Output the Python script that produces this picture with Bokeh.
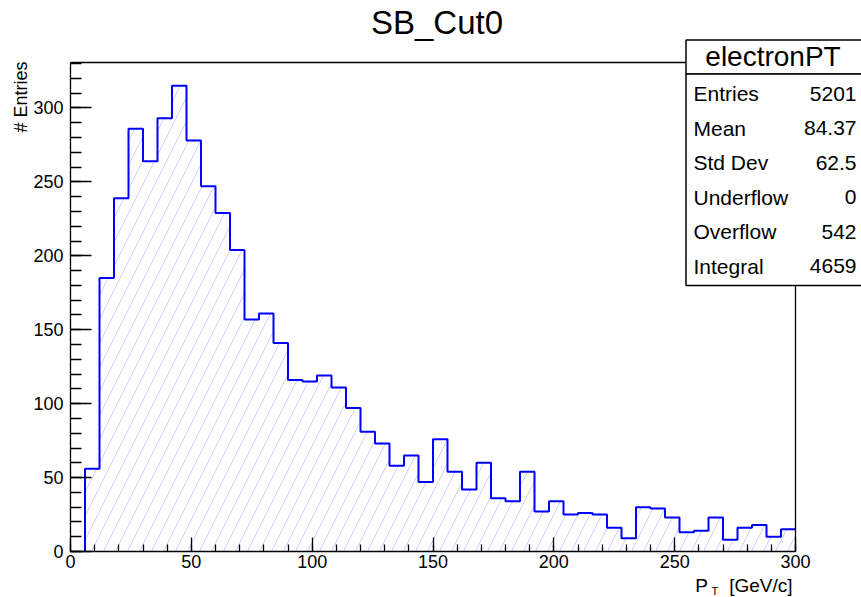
import math
import numpy as np
from bokeh.plotting import figure
from bokeh.models import Range1d, SingleIntervalTicker, Label, BoxAnnotation, ColumnDataSource
from bokeh.embed import file_html
from bokeh.resources import INLINE

# ---------------- data ----------------
title_text = "SB_Cut0"
hist_name = "electronPT"
x_min, x_max = 0, 300
n_bins = 50
counts = [0, 56, 185, 239, 286, 264, 293, 315, 278, 247,
          229, 204, 157, 161, 141, 116, 115, 119, 111, 97,
          81, 73, 58, 65, 47, 76, 54, 42, 60, 36,
          34, 54, 27, 34, 25, 26, 25, 16, 9, 30,
          29, 23, 13, 14, 23, 8, 16, 18, 10, 15]
stat_names = ["Entries", "Mean", "Std Dev", "Underflow", "Overflow", "Integral"]
stat_values = ["5201", "84.37", "62.5", "0", "542", "4659"]
x_label_main = "P"
x_label_sub = "T"
x_label_unit = "[GeV/c]"
y_label = "# Entries"

# ---------------- layout ----------------
W, H = 861, 597
FL, FR, FT, FB = 70, 795, 62, 551          # ROOT frame edges in pixels
y_top = max(counts) * 1.05
FONT = "Liberation Sans"

edges = np.linspace(x_min, x_max, n_bins + 1)
# the bokeh frame covers the whole area right of / above the axes
x_end = x_max + (W - FR) * (x_max - x_min) / (FR - FL)
y_end = y_top * FB / (FB - FT)

def dx(px):  # pixel -> data x (annotation placement)
    return x_min + (px - FL) / (FR - FL) * (x_max - x_min)

def dy(py):  # pixel -> data y (annotation placement)
    return (FB - py) / (FB - FT) * y_top

p = figure(width=W, height=H, output_backend="svg", toolbar_location=None,
           x_range=Range1d(x_min, x_end), y_range=Range1d(0, y_end),
           min_border_left=FL, min_border_right=0,
           min_border_top=0, min_border_bottom=H - FB)
p.title.visible = False
p.grid.visible = False
p.background_fill_color = "white"
p.border_fill_color = "white"
p.outline_line_color = None

# histogram hatch fill
src = ColumnDataSource(dict(left=edges[:-1], right=edges[1:], top=counts))
p.quad(left="left", right="right", top="top", bottom=0, source=src,
       fill_color=None, line_color=None,
       hatch_pattern="/", hatch_color="#cdcdff", hatch_weight=1, hatch_scale=24)

# histogram outline (step)
i0 = next(i for i, c in enumerate(counts) if c > 0)
xs, ys = [edges[i0]], [0]
for i in range(i0, n_bins):
    xs += [edges[i], edges[i + 1]]
    ys += [counts[i], counts[i]]
p.line(xs, ys, line_color="#0000ff", line_width=2)

# top and right sides of the ROOT frame
p.line([x_min, x_max, x_max], [y_top, y_top, 0], line_color="black", line_width=1.3)

# axes
for ax, tin, min_in, bnds in ((p.xaxis[0], 14, 7, (x_min, x_max)), (p.yaxis[0], 21, 11, (0, y_top))):
    ax.bounds = bnds
    ax.ticker = SingleIntervalTicker(interval=50, num_minor_ticks=5)
    ax.major_tick_in = tin
    ax.major_tick_out = 0
    ax.minor_tick_in = min_in
    ax.minor_tick_out = 0
    ax.major_tick_line_color = "black"
    ax.minor_tick_line_color = "black"
    ax.axis_line_color = "black"
    ax.axis_line_width = 1.3
    ax.major_tick_line_width = 1.3
    ax.minor_tick_line_width = 1.3
    ax.major_label_text_font = FONT
    ax.major_label_text_font_size = "18px"
    ax.major_label_text_color = "black"
p.xaxis[0].major_label_standoff = 3
p.yaxis[0].major_label_standoff = 7

def lab(px, py, text, size, align="left", angle=0.0, place="center"):
    # (px, py): pixel position of the text's centre line
    p.add_layout(Label(x=dx(px), y=dy(py), text=text, text_font=FONT,
                       text_font_size=f"{size}px", text_align=align,
                       text_baseline="middle", angle=angle,
                       text_color="black"), place)

# title
lab(436.5, 21.7, title_text, 33, "center")

# stats box
for top_px, bot_px in ((39.5, 73.5), (73.5, 285)):
    p.add_layout(BoxAnnotation(left=dx(685.5), right=dx(866), top=dy(top_px), bottom=dy(bot_px),
                               fill_color="white", fill_alpha=1.0,
                               line_color="black", line_width=1.5, line_alpha=1.0,
                               line_dash="solid"))
lab(772.5, 55.5, hist_name, 28, "center")
for k, (nm, vl) in enumerate(zip(stat_names, stat_values)):
    cy = 93 + 34.5 * k
    lab(693, cy, nm, 21, "left")
    lab(856, cy, vl, 21, "right")

# axis titles (kept in the side panels, where they are not clipped)
lab(20, 61, y_label, 18, "right", math.pi / 2, "left")
lab(711, 590.5, x_label_sub, 11, "left", 0.0, "left")
lab(792, 585, x_label_main + "\u00a0\u00a0\u00a0\u00a0" + x_label_unit, 19, "right", 0.0, "below")

open("out.html", "w").write(file_html(p, INLINE))
